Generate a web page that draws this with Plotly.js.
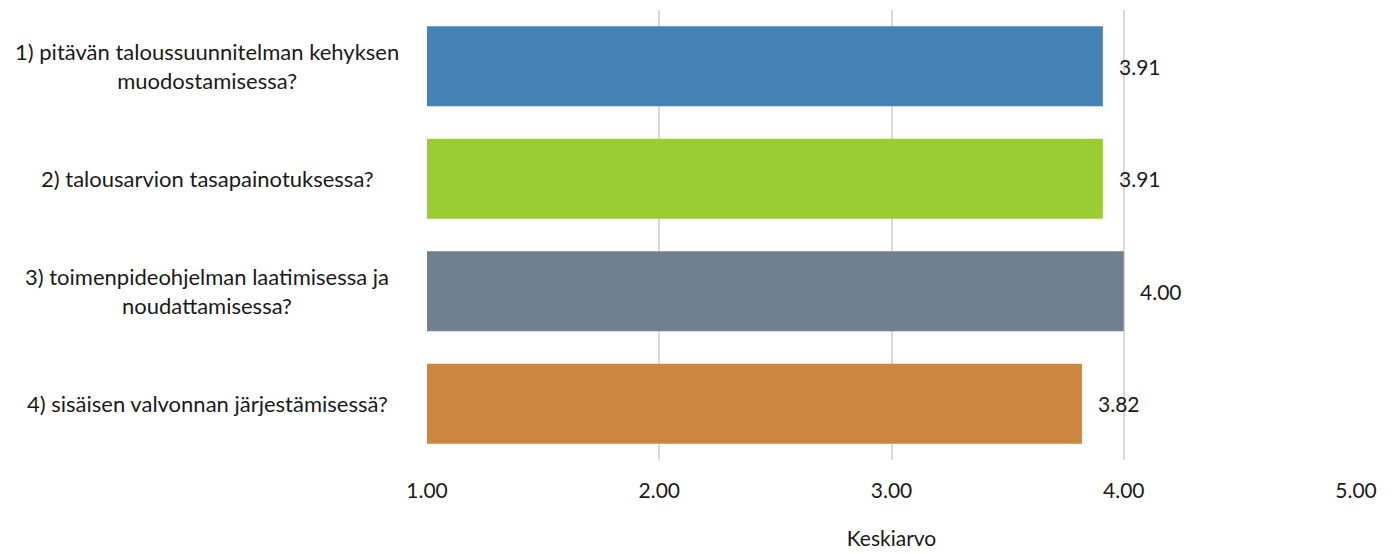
<!DOCTYPE html>
<html>
<head>
<meta charset="utf-8">
<script src="https://cdn.plot.ly/plotly-3.0.1.min.js"></script>
<style>html,body{margin:0;padding:0;background:#fff;}#chart{width:1397px;height:554px;}</style>
</head>
<body>
<div id="chart"></div>
<script>
const categories = [
  "1) pitävän taloussuunnitelman kehyksen<br>muodostamisessa?",
  "2) talousarvion tasapainotuksessa?",
  "3) toimenpideohjelman laatimisessa ja<br>noudattamisessa?",
  "4) sisäisen valvonnan järjestämisessä?"
];
const values = [3.91, 3.91, 4.00, 3.82];
const colors = ["#4682B4", "#9ACD32", "#708090", "#CD853F"];
const tickVals = [1, 2, 3, 4, 5];
const tickText = ["1.00", "2.00", "3.00", "4.00", "5.00"];
const axisTitle = "Keskiarvo";

const FONT = "Lato, 'Open Sans', sans-serif";
const TXT = "#1a1a1a";

const trace = {
  type: "bar",
  orientation: "h",
  x: values.map(v => v - 1),
  y: categories,
  base: 1,
  marker: {color: colors},
  hoverinfo: "skip"
};

const annotations = [];
categories.forEach((c, i) => {
  annotations.push({
    xref: "paper", yref: "y", x: -0.2368, y: c,
    text: c, showarrow: false, xanchor: "center", yanchor: "middle",
    align: "center", font: {family: FONT, size: 22, color: TXT}
  });
  annotations.push({
    xref: "x", yref: "y", x: values[i], y: c,
    text: values[i].toFixed(2), showarrow: false, xanchor: "left", yanchor: "middle",
    xshift: 14, font: {family: FONT, size: 21, color: TXT}
  });
});

const layout = {
  width: 1397, height: 554,
  margin: {l: 427, r: 41, t: 10, b: 94},
  paper_bgcolor: "#fff", plot_bgcolor: "#fff",
  showlegend: false,
  bargap: 0.29,
  font: {family: FONT, size: 21, color: TXT},
  xaxis: {
    range: [1, 5], tickvals: tickVals, ticktext: tickText,
    showgrid: true, gridcolor: "#d9d9d9", gridwidth: 2,
    zeroline: false, showline: false, ticks: "",
    ticklabelstandoff: 16,
    tickfont: {family: FONT, size: 21, color: TXT},
    title: {text: axisTitle, font: {family: FONT, size: 21, color: TXT}, standoff: 30}
  },
  yaxis: {
    autorange: "reversed", showticklabels: false, showgrid: false,
    zeroline: false, showline: false, ticks: ""
  },
  annotations: annotations
};

Plotly.newPlot("chart", [trace], layout, {staticPlot: true, displayModeBar: false});
</script>
</body>
</html>
